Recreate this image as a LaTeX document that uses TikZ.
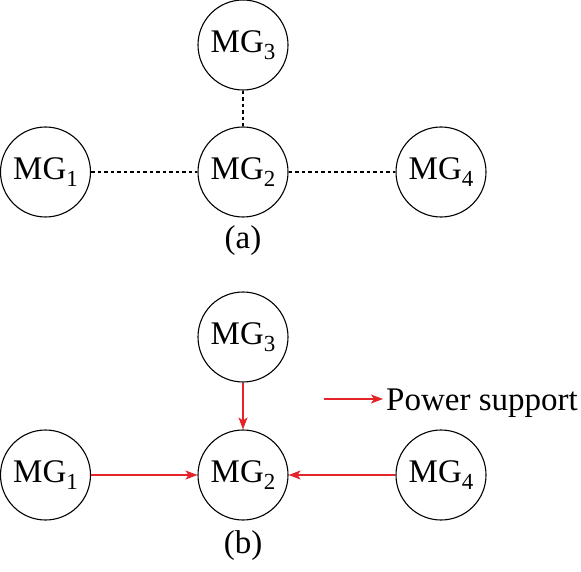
\documentclass[tikz,border=0pt]{standalone}
\usepackage{fontspec}
\setmainfont{Liberation Serif}
\usetikzlibrary{arrows.meta}
\definecolor{supred}{RGB}{228,36,40}
\newcommand{\mgsub}[1]{MG\raisebox{-0.22em}{\fontsize{23}{25}\selectfont #1}}
\begin{document}
\begin{tikzpicture}[x=1pt,y=-1pt,
  mg/.style={circle,draw,line width=1.1pt,minimum size=90pt,inner sep=0pt,font=\fontsize{33}{36}\selectfont},
  lab/.style={font=\fontsize{33}{36}\selectfont,inner sep=0pt},
  link/.style={line width=1.1pt,dash pattern=on 3.5pt off 3pt},
  sup/.style={supred,line width=1.1pt,-{Stealth[length=12pt,width=9pt,inset=3pt]}}]
\useasboundingbox (0,0) rectangle (581,572);
% (a)
\node[mg] (a3) at (243,45) {\mgsub{3}};
\node[mg] (a1) at (45.5,172) {\mgsub{1}};
\node[mg] (a2) at (243,172) {\mgsub{2}};
\node[mg] (a4) at (441,172) {\mgsub{4}};
\draw[link] (a3) -- (a2);
\draw[link] (a1) -- (a2);
\draw[link] (a2) -- (a4);
\node[lab] (ca) at (243,241) {(a)};
% (b)
\node[mg] (b3) at (243,337) {\mgsub{3}};
\node[mg] (b1) at (45.5,475) {\mgsub{1}};
\node[mg] (b2) at (243,475) {\mgsub{2}};
\node[mg] (b4) at (441,475) {\mgsub{4}};
\draw[sup] (b3) -- (b2);
\draw[sup] (b1) -- (b2);
\draw[sup] (b4) -- (b2);
\node[lab] (cb) at (243,546) {(b)};
% legend
\coordinate (ls) at (324,399);
\node[lab,anchor=base west] (lt) at (386,410) {Power support};
\coordinate (le) at (383,399);
\draw[sup] (ls) -- (le);
\end{tikzpicture}
\end{document}
